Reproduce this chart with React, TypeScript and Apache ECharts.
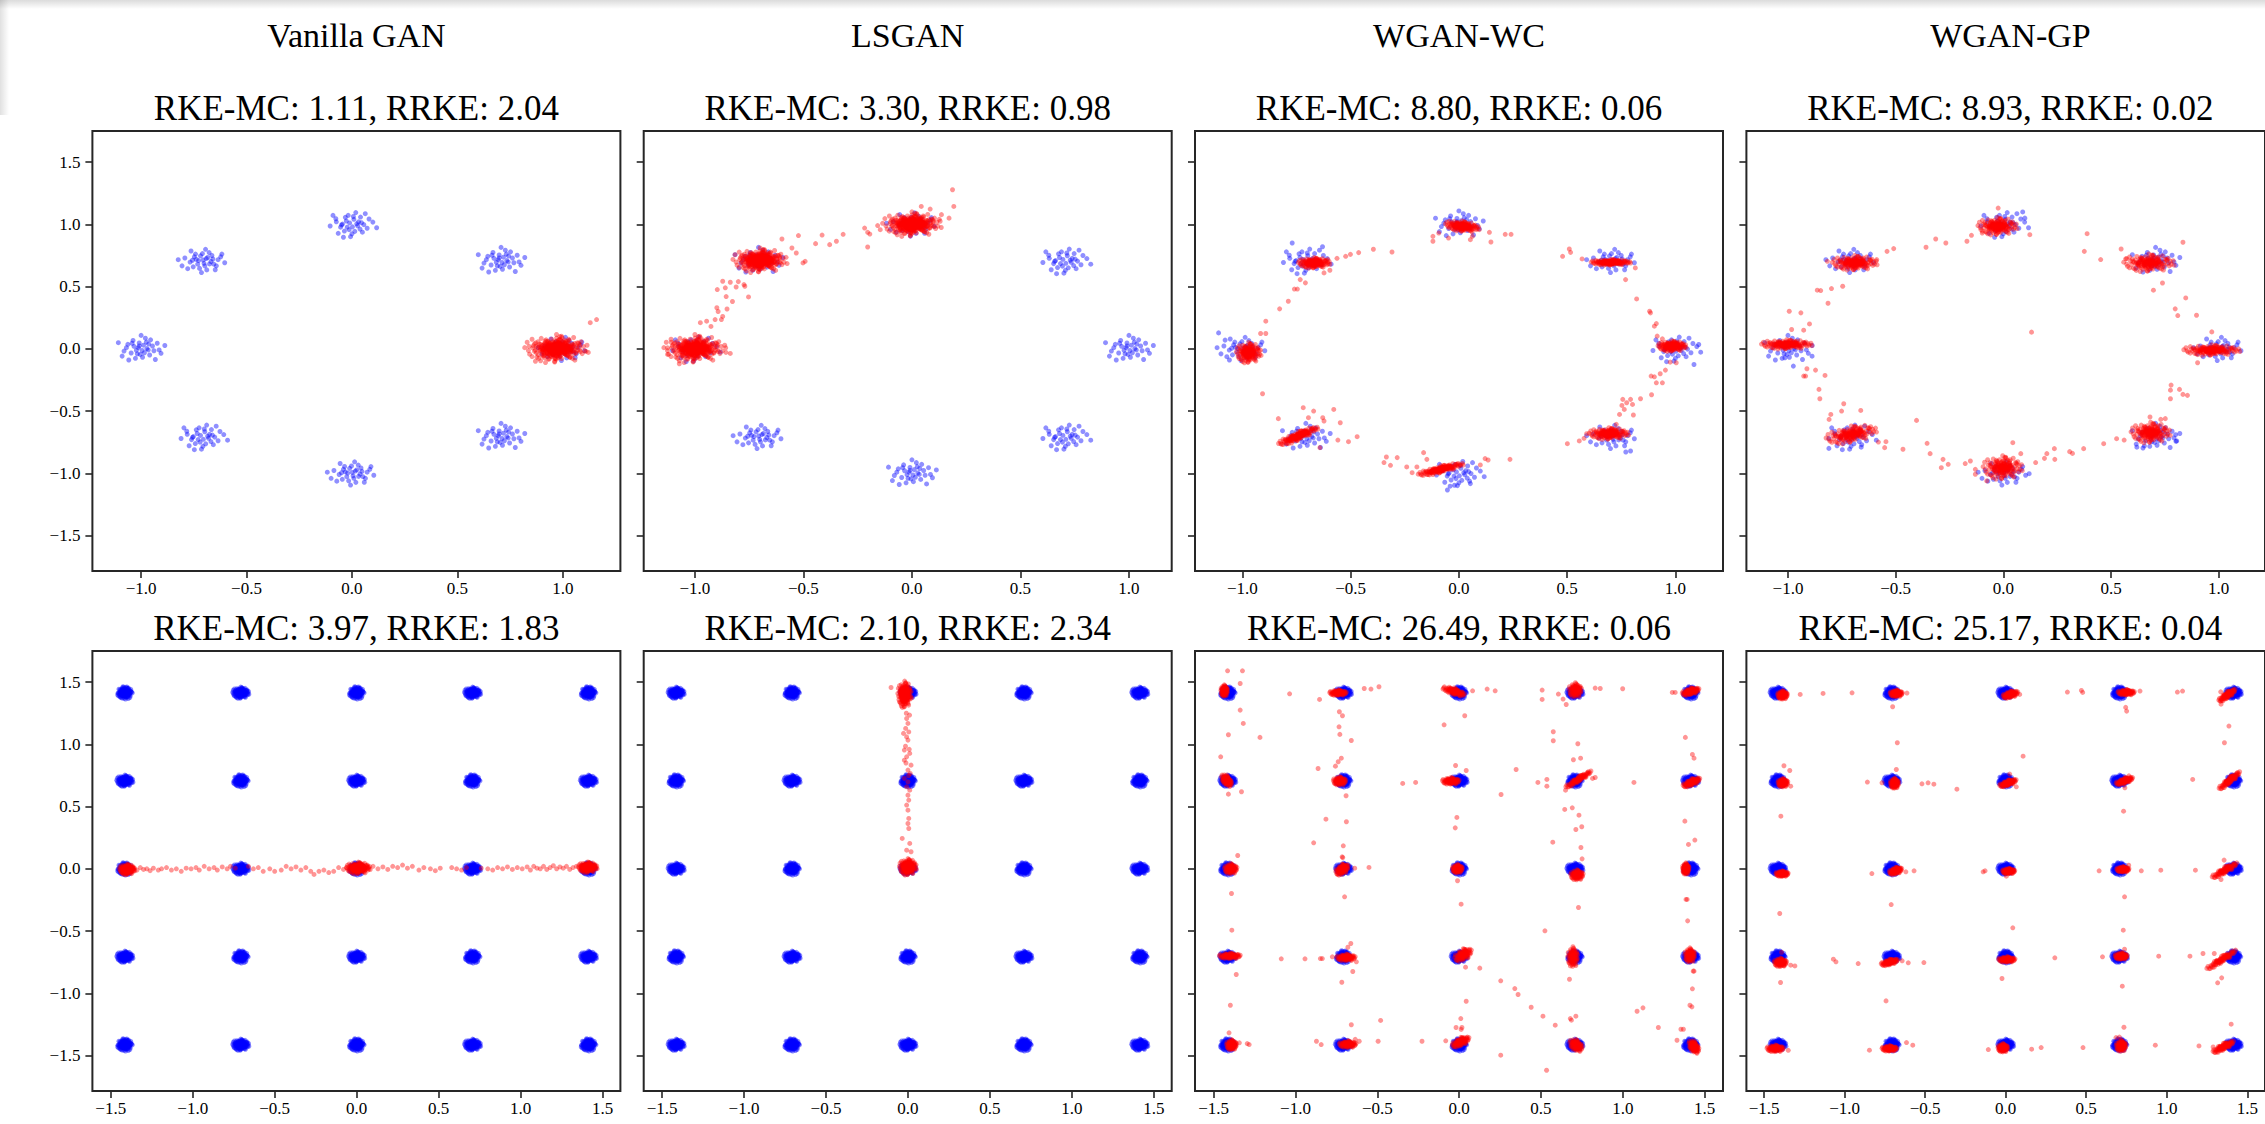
import React, { useEffect, useRef } from "react";
import * as echarts from "echarts";

// ---------- texts ----------
const COLUMN_TITLES = ["Vanilla GAN", "LSGAN", "WGAN-WC", "WGAN-GP"];
const ROW1_SCORES = [
  "RKE-MC: 1.11, RRKE: 2.04",
  "RKE-MC: 3.30, RRKE: 0.98",
  "RKE-MC: 8.80, RRKE: 0.06",
  "RKE-MC: 8.93, RRKE: 0.02",
];
const ROW2_SCORES = [
  "RKE-MC: 3.97, RRKE: 1.83",
  "RKE-MC: 2.10, RRKE: 2.34",
  "RKE-MC: 26.49, RRKE: 0.06",
  "RKE-MC: 25.17, RRKE: 0.04",
];

// ---------- axes ----------
const X_TICKS_RING = [-1, -0.5, 0, 0.5, 1];
const X_TICKS_GRID = [-1.5, -1, -0.5, 0, 0.5, 1, 1.5];
const Y_TICKS = [-1.5, -1, -0.5, 0, 0.5, 1, 1.5];
const X_RANGES = [
  [-1.231, 1.273],
  [-1.236, 1.197],
  [-1.219, 1.22],
  [-1.193, 1.215],
  [-1.612, 1.609],
  [-1.612, 1.609],
  [-1.614, 1.612],
  [-1.61, 1.61],
];
const Y_RANGE = [-1.785, 1.75];

// ---------- real data modes ----------
const RING_CENTERS = [
  [1, 0], [0.707, 0.707], [0, 1], [-0.707, 0.707],
  [-1, 0], [-0.707, -0.707], [0, -1], [0.707, -0.707],
];
const GRID_CENTERS = [-1.414, -0.707, 0, 0.707, 1.414];
const RING_STD = 0.045;
const GRID_STD = 0.019;

// hand-typed jitter offsets (in std units)
const JITTER_A = [
  [0.12, -0.45], [1.05, 0.33], [-0.78, 1.21], [0.41, -1.62], [-1.35, -0.22], [1.88, 0.71],
  [-0.25, 0.88], [0.66, 1.47], [-1.02, -1.08], [0.03, 0.15], [1.42, -0.9], [-1.9, 0.5],
  [0.85, -0.12], [-0.55, -0.6], [0.28, 2.05], [-0.15, -2.1], [2.3, -0.35], [-2.2, -0.9],
  [0.95, 0.95], [-0.7, 0.25], [0.5, 0.6], [-1.25, 1.75], [1.3, -1.6], [-0.35, -1.35],
  [0.2, -0.9], [-0.9, 0.7], [1.6, 0.2], [-1.6, -1.4], [0.7, -0.55], [-0.05, 1.3],
  [2.0, 1.2], [-0.45, 0.05], [1.15, -0.6], [-1.1, 0.1], [0.35, 0.4], [-2.6, 0.2],
];
const JITTER_B = [
  [-0.3, 0.2], [0.9, -1.1], [-1.4, 0.8], [1.7, 1.0], [0.1, -0.3], [-0.6, -1.7],
  [0.45, 1.9], [-1.8, -0.4], [1.2, 0.5], [-0.2, 1.05], [0.75, -0.2], [-1.05, -0.75],
  [2.1, -0.8], [0.25, 0.65], [-0.85, 1.5], [1.5, -1.9], [-0.1, -1.0], [-2.4, 1.1],
  [0.6, 0.05], [-0.5, -0.25], [1.0, 1.6], [-1.3, -2.0], [0.0, 2.4], [1.9, -0.2],
  [-0.75, 0.45], [0.35, -0.7], [-1.55, 0.2], [0.8, 0.85], [-0.4, -0.9], [2.5, 0.6],
  [-0.95, 1.0], [0.15, -1.5], [1.35, -0.35], [-2.0, -1.3], [0.55, 1.2], [-0.2, 0.5],
];
const JITTER_C = [
  [0.5, 0.1], [-1.2, -0.5], [0.3, -1.25], [-0.4, 1.6], [1.6, -0.7], [-0.8, -1.2],
  [2.2, 0.4], [-1.7, 1.0], [0.9, 1.3], [0.05, -0.45], [-0.6, 0.6], [1.1, -1.4],
  [-2.3, -0.3], [0.7, 0.45], [-0.15, -2.2], [1.4, 1.9], [-1.0, 0.05], [0.2, 0.9],
  [-0.5, -0.5], [1.8, 0.95], [-1.45, -1.6], [0.4, 2.1], [-0.25, 0.25], [1.25, -0.05],
  [-2.0, 1.6], [0.85, -0.85], [-0.7, 1.25], [0.0, -1.7], [2.6, -0.6], [-1.1, -0.1],
  [0.6, -0.25], [-0.3, -0.95], [1.0, 0.3], [-1.65, 0.45], [0.15, 1.4], [-0.9, -2.3],
];

// ---------- generated (red) clusters: [cx, cy, sx, sy, skew, density] ----------
const RED_CLUSTERS_P1 = [[0.97, 0.0, 0.058, 0.048, 0, 5]];
const RED_CLUSTERS_P2 = [
  [-1.0, 0.0, 0.055, 0.048, 0, 5],
  [-0.7, 0.71, 0.048, 0.042, 0, 5],
  [0.0, 1.0, 0.052, 0.042, 0, 5],
];
const RED_CLUSTERS_P3 = [
  [0.016, 0.984, 0.03, 0.018, -0.2, 3],
  [-0.669, 0.69, 0.028, 0.018, 0, 3],
  [-0.971, -0.032, 0.022, 0.035, 0, 3],
  [-0.742, -0.7, 0.035, 0.015, 0.7, 3],
  [-0.084, -0.968, 0.04, 0.012, 0.4, 3],
  [0.693, -0.682, 0.035, 0.02, 0, 3],
  [0.985, 0.021, 0.025, 0.018, 0, 3],
  [0.702, 0.695, 0.035, 0.01, 0, 3],
];
const RED_CLUSTERS_P4 = [
  [-0.027, 0.984, 0.035, 0.03, 0, 3],
  [-0.69, 0.69, 0.04, 0.025, 0, 3],
  [-1.006, 0.035, 0.045, 0.016, 0, 3],
  [-0.706, -0.687, 0.045, 0.028, 0.3, 3],
  [-0.003, -0.955, 0.035, 0.04, 0, 3],
  [0.684, -0.674, 0.035, 0.035, 0, 3],
  [0.968, -0.011, 0.05, 0.018, 0, 3],
  [0.676, 0.69, 0.045, 0.03, 0, 3],
];
const RED_CLUSTERS_P5 = [
  [-1.4, -0.005, 0.018, 0.018, 0, 3],
  [0.01, 0.006, 0.028, 0.02, 0, 4],
  [1.41, 0.012, 0.022, 0.018, 0, 3],
];
const RED_CLUSTERS_P6 = [
  [-0.02, 1.4, 0.016, 0.045, 0, 4],
  [0.0, 0.015, 0.02, 0.028, 0, 4],
];
const RED_CLUSTERS_P7 = [
  [-1.435, 1.43, 0.008, 0.02, 0, 2], [-0.739, 1.414, 0.02, 0.01, 0, 2],
  [-0.03, 1.425, 0.025, 0.012, -0.4, 2], [0.71, 1.435, 0.015, 0.025, 0, 2],
  [1.415, 1.425, 0.02, 0.012, 0.3, 2],
  [-1.42, 0.71, 0.012, 0.018, -0.8, 2], [-0.73, 0.705, 0.015, 0.015, 0, 2],
  [-0.05, 0.705, 0.02, 0.012, 0, 2], [0.73, 0.72, 0.03, 0.01, 0.8, 2],
  [1.42, 0.695, 0.02, 0.012, 0.5, 2],
  [-1.395, 0.0, 0.015, 0.018, 0, 2], [-0.715, -0.005, 0.015, 0.018, 0.5, 2],
  [-0.01, 0.0, 0.012, 0.015, 0, 2], [0.72, -0.05, 0.015, 0.018, 0, 2],
  [1.385, 0.0, 0.008, 0.02, 0, 2],
  [-1.4, -0.7, 0.025, 0.01, 0, 2], [-0.69, -0.713, 0.022, 0.012, 0, 2],
  [0.025, -0.69, 0.02, 0.02, 0.5, 2], [0.695, -0.71, 0.012, 0.035, 0, 2],
  [1.41, -0.695, 0.012, 0.025, 0, 2],
  [-1.39, -1.415, 0.012, 0.018, 0, 2], [-0.68, -1.41, 0.02, 0.012, 0, 2],
  [0.01, -1.39, 0.02, 0.015, 0.5, 2], [0.715, -1.418, 0.015, 0.02, -0.5, 2],
  [1.435, -1.43, 0.012, 0.02, -0.8, 2],
];
const RED_CLUSTERS_P8 = [
  [-1.385, 1.396, 0.012, 0.015, 0, 2], [-0.679, 1.409, 0.015, 0.012, 0, 2],
  [0.03, 1.401, 0.018, 0.012, 0.3, 2], [0.749, 1.417, 0.02, 0.01, 0, 2],
  [1.375, 1.395, 0.02, 0.012, 0.8, 2],
  [-1.383, 0.691, 0.012, 0.015, 0, 2], [-0.69, 0.686, 0.01, 0.018, 0, 2],
  [0.015, 0.69, 0.02, 0.01, 0.4, 2], [0.738, 0.707, 0.02, 0.01, 0.4, 2],
  [1.39, 0.71, 0.025, 0.012, 1.0, 2],
  [-1.388, -0.04, 0.015, 0.01, 0, 2], [-0.683, -0.016, 0.015, 0.012, 0.3, 2],
  [0.019, -0.019, 0.015, 0.01, 0, 2], [0.728, -0.005, 0.015, 0.01, 0, 2],
  [1.36, -0.012, 0.03, 0.012, 0.7, 2],
  [-1.398, -0.753, 0.015, 0.015, 0, 2], [-0.721, -0.75, 0.02, 0.01, 0.3, 2],
  [0.008, -0.729, 0.02, 0.01, 0, 2], [0.717, -0.702, 0.015, 0.012, 0, 2],
  [1.34, -0.73, 0.035, 0.012, 0.8, 2],
  [-1.43, -1.444, 0.02, 0.012, 0, 2], [-0.721, -1.444, 0.018, 0.01, 0, 2],
  [-0.017, -1.439, 0.012, 0.015, 0, 2], [0.717, -1.423, 0.012, 0.02, 0, 2],
  [1.352, -1.43, 0.025, 0.012, 0.6, 2],
];

// ---------- individually read points ----------
const RED_POINTS_P1 = [[1.13, 0.21], [1.16, 0.235], [0.84, 0.02], [1.11, -0.02], [0.87, -0.1]];
const RED_POINTS_P2 = [
  [-0.975, 0.21], [-0.946, 0.222], [-0.926, 0.18], [-0.907, 0.235], [-0.878, 0.235], [-0.872, 0.26],
  [-0.899, 0.33], [-0.893, 0.3], [-0.852, 0.32], [-0.827, 0.38], [-0.856, 0.42], [-0.897, 0.476],
  [-0.86, 0.49], [-0.837, 0.535], [-0.81, 0.497], [-0.774, 0.516], [-0.77, 0.503], [-0.753, 0.417],
  [-0.8, 0.54], [-0.872, 0.543],
  [-0.599, 0.882], [-0.553, 0.81], [-0.533, 0.77], [-0.523, 0.91], [-0.492, 0.703], [-0.502, 0.69],
  [-0.444, 0.845], [-0.414, 0.914], [-0.379, 0.837], [-0.348, 0.864], [-0.317, 0.92], [-0.218, 0.97],
  [-0.204, 0.936], [-0.194, 0.922], [-0.204, 0.818], [-0.158, 0.99], [-0.146, 0.957],
  [0.187, 1.278], [0.193, 1.144], [0.171, 1.05], [0.136, 1.078], [0.126, 1.04], [0.084, 1.123], [0.043, 1.144],
  [-1.126, 0.008], [-1.126, -0.045], [-1.109, 0.053], [-0.837, -0.037], [-0.858, 0.008], [-1.072, -0.12],
];
const RED_POINTS_P3 = [
  [-0.12, 0.904], [-0.12, 0.864], [-0.093, 0.93], [-0.048, 0.89], [0.053, 0.877], [0.062, 0.904],
  [0.141, 0.936], [0.148, 0.858], [0.214, 0.92], [0.241, 0.92],
  [-0.605, 0.717], [-0.563, 0.727], [-0.523, 0.743], [-0.501, 0.759], [-0.463, 0.773], [-0.395, 0.8],
  [-0.309, 0.778], [-0.623, 0.61], [-0.596, 0.631], [-0.733, 0.556], [-0.709, 0.53], [-0.76, 0.48],
  [-0.746, 0.48], [-0.788, 0.382], [-0.828, 0.321], [-0.892, 0.222], [-0.916, 0.123], [-0.892, 0.123],
  [-0.907, -0.361],
  [-0.834, -0.561], [-0.719, -0.473], [-0.695, -0.553], [-0.671, -0.5], [-0.629, -0.553], [-0.623, -0.58],
  [-0.578, -0.487], [-0.548, -0.594], [-0.559, -0.733], [-0.51, -0.746], [-0.47, -0.706], [-0.642, -0.794],
  [-0.335, -0.869], [-0.346, -0.914], [-0.316, -0.936], [-0.285, -0.874], [-0.241, -0.949], [-0.216, -0.995],
  [-0.163, -0.834], [-0.148, -0.888], [-0.194, -0.949], [0.099, -0.933], [0.121, -0.882], [0.135, -0.893],
  [0.236, -0.888],
  [0.757, -0.406], [0.793, -0.406], [0.753, -0.455], [0.775, -0.433], [0.764, -0.487], [0.742, -0.527],
  [0.802, -0.447], [0.806, -0.532], [0.839, -0.401], [0.89, -0.369], [0.727, -0.607], [0.72, -0.647],
  [0.501, -0.762], [0.556, -0.74], [0.578, -0.719], [0.59, -0.682],
  [0.885, 0.289], [0.881, 0.302], [0.903, 0.182], [0.912, 0.203], [0.916, 0.102], [0.94, 0.08],
  [0.821, 0.401], [0.888, -0.219], [0.903, -0.225], [0.954, -0.171], [0.93, -0.2], [0.912, -0.273],
  [0.94, -0.273], [0.976, -0.107], [1.004, -0.112],
  [0.479, 0.743], [0.51, 0.802], [0.516, 0.775], [0.569, 0.722], [0.77, 0.556], [0.815, 0.65],
];
const BLUE_POINTS_P3 = [
  [-1.11, 0.128], [-1.08, 0.07], [-1.06, -0.09], [0.771, -0.829], [0.793, -0.821], [1.108, 0.035],
  [1.086, -0.126], [-0.053, -1.134], [-0.02, -1.096], [0.053, -1.083], [-0.77, 0.85], [-0.63, 0.82],
];
const RED_POINTS_P4 = [
  [0.123, 0.917], [-0.098, 0.93], [-0.148, 0.912], [-0.169, 0.864], [-0.024, 1.131],
  [-0.588, 0.717], [-0.54, 0.783], [-0.509, 0.805], [-0.359, 0.816], [-0.314, 0.882], [-0.267, 0.85],
  [-0.817, 0.703],
  [-0.864, 0.471], [-0.848, 0.468], [-0.798, 0.484], [-0.746, 0.503], [-0.814, 0.366], [-0.9, 0.2],
  [-0.94, 0.289], [-0.994, 0.302], [-0.983, 0.155], [-0.927, 0.15],
  [-0.912, -0.16], [-0.872, -0.171], [-0.927, -0.219], [-0.918, -0.219], [-0.828, -0.214],
  [-0.856, -0.326], [-0.852, -0.401],
  [-0.741, -0.441], [-0.751, -0.5], [-0.801, -0.527], [-0.809, -0.567], [-0.662, -0.495], [-0.58, -0.749],
  [-0.545, -0.746], [-0.551, -0.794], [-0.466, -0.807],
  [-0.403, -0.575], [-0.354, -0.759], [-0.34, -0.842], [-0.28, -0.888], [-0.288, -0.955], [-0.256, -0.928],
  [-0.177, -0.922], [-0.153, -0.901], [-0.13, -0.968], [-0.13, -1.008],
  [0.044, -0.754], [0.081, -0.842], [-0.077, -1.061],
  [0.15, -0.914], [0.191, -0.88], [0.202, -0.842], [0.237, -0.802], [0.239, -0.888], [0.308, -0.826],
  [0.321, -0.84], [0.373, -0.802], [0.466, -0.762], [0.526, -0.722], [0.561, -0.733],
  [0.731, -0.567], [0.752, -0.561], [0.681, -0.548],
  [0.779, -0.291], [0.776, -0.332], [0.776, -0.401], [0.818, -0.326], [0.834, -0.366], [0.855, -0.374],
  [0.847, 0.409], [0.798, 0.321], [0.81, 0.267], [0.897, 0.27],
  [0.968, 0.136], [0.902, -0.112], [0.131, 0.134],
  [0.547, 0.802], [0.573, 0.725], [0.697, 0.471], [0.739, 0.529], [0.834, 0.856], [0.452, 0.717],
  [0.389, 0.925], [0.376, 0.783],
];
const BLUE_POINTS_P4 = [
  [-1.014, -0.072], [-0.975, -0.139], [-0.888, -0.059], [0.12, -1.003], [0.8, -0.69], [0.805, -0.74],
  [0.62, -0.79], [0.655, -0.78], [-0.81, -0.8], [-0.66, -0.79], [0.09, 1.1], [0.1, 1.05],
];
const RED_POINTS_P5 = [
  [-1.36, 0.0], [-1.34, -0.01], [-1.32, 0.01], [-1.3, -0.005], [-1.28, 0.0], [-1.26, -0.015],
  [-1.24, 0.005], [-1.21, -0.01], [-1.19, 0.0], [-1.16, 0.01], [-1.13, -0.01], [-1.1, 0.0],
  [-1.07, -0.02], [-1.04, 0.005], [-1.01, 0.0], [-0.98, 0.01], [-0.96, -0.01], [-0.93, 0.02],
  [-0.9, 0.0], [-0.87, 0.01], [-0.85, -0.01], [-0.82, 0.015], [-0.79, 0.0], [-0.77, 0.02],
  [-0.74, 0.005], [-0.66, 0.02], [-0.63, 0.0], [-0.6, 0.01], [-0.57, -0.02], [-0.53, 0.0],
  [-0.5, -0.02], [-0.46, -0.01], [-0.43, 0.02], [-0.4, 0.0], [-0.37, 0.015], [-0.34, -0.01],
  [-0.31, 0.01], [-0.28, -0.02], [-0.26, -0.045], [-0.23, -0.02], [-0.2, -0.01], [-0.17, -0.03],
  [-0.14, -0.02], [-0.11, 0.01], [-0.08, -0.005], [-0.06, 0.01], [0.07, 0.01], [0.1, 0.02],
  [0.13, 0.0], [0.16, 0.015], [0.19, -0.005], [0.22, 0.02], [0.25, 0.01], [0.28, 0.03],
  [0.31, 0.005], [0.34, 0.02], [0.38, -0.01], [0.41, 0.01], [0.45, 0.0], [0.48, -0.015],
  [0.51, 0.005], [0.58, 0.01], [0.61, 0.0], [0.64, -0.01], [0.67, 0.01], [0.76, 0.005],
  [0.8, 0.0], [0.83, -0.01], [0.86, 0.01], [0.89, 0.0], [0.92, 0.015], [0.95, -0.005],
  [0.98, 0.01], [1.01, 0.0], [1.04, 0.015], [1.06, -0.01], [1.08, 0.02], [1.1, 0.005],
  [1.12, 0.0], [1.14, 0.02], [1.16, -0.005], [1.18, 0.01], [1.2, 0.025], [1.22, 0.0],
  [1.24, 0.015], [1.26, 0.005], [1.28, 0.02], [1.3, -0.005], [1.32, 0.01], [1.34, 0.02],
];
const RED_POINTS_P6 = [
  [-0.103, 1.457], [-0.008, 1.208], [0.0, 1.168], [-0.014, 1.128], [0.005, 1.1], [-0.027, 1.088],
  [-0.008, 1.06], [0.0, 1.034], [-0.022, 0.954], [0.011, 0.927], [-0.008, 0.9], [-0.022, 0.873],
  [0.019, 0.833], [0.0, 0.793], [0.014, 0.766], [-0.022, 0.726], [0.0, 0.699], [-0.008, 0.659],
  [0.011, 0.632], [0.0, 0.592], [0.005, 0.552], [-0.008, 0.512], [0.0, 0.471], [0.005, 0.405],
  [0.0, 0.364], [0.005, 0.324], [-0.035, 0.244], [0.011, 0.204], [-0.008, 0.15], [0.019, 0.137],
  [-0.01, 1.25], [0.01, 1.235], [-0.015, 0.985], [0.008, 0.96], [-0.012, 0.85], [0.004, 0.75],
];
const RED_POINTS_P7 = [
  [-1.415, 1.591], [-1.324, 1.591], [-1.338, 1.489], [-1.338, 1.275], [-1.319, 1.168], [-1.41, 1.077],
  [-1.217, 1.056], [-1.457, 0.9], [-1.33, 0.619], [-1.41, 0.6], [-1.353, 0.107], [-1.391, -0.198],
  [-1.389, -0.493], [-1.362, -0.849], [-1.398, -1.096], [-1.406, -1.318], [-1.343, -1.398],
  [-1.295, -1.404], [-1.283, -1.412],
  [-1.036, 1.406], [-0.853, 1.361], [-0.732, 1.262], [-0.713, 1.23], [-0.734, 1.141], [-0.729, 1.08],
  [-0.659, 1.031], [-0.862, 0.806], [-0.72, 0.889], [-0.739, 0.86], [-0.756, 0.825], [-0.691, 0.587],
  [-0.814, 0.399], [-0.689, 0.378], [-0.889, 0.209], [-0.708, 0.185], [-0.715, 0.096], [-0.711, 0.09],
  [-0.551, 0.011], [-0.638, 0.005], [-0.7, -0.225], [-1.087, -0.723], [-0.942, -0.723],
  [-0.848, -0.721], [-0.836, -0.721], [-0.775, -0.707], [-0.628, -0.747], [-0.65, -0.825],
  [-0.662, -0.6], [-0.68, -0.63], [-0.717, -0.911], [-0.659, -1.253], [-0.48, -1.218],
  [-0.872, -1.385], [-0.843, -1.412], [-0.611, -1.385], [-0.635, -1.37], [-0.495, -1.385],
  [-0.58, 1.449], [-0.539, 1.444], [-0.49, 1.463], [-0.099, 1.444], [0.082, 1.43], [0.171, 1.444],
  [0.22, 1.43], [0.507, 1.436], [0.507, 1.361], [0.606, 1.404], [0.635, 1.364], [0.654, 1.32],
  [0.831, 1.452], [0.862, 1.449], [0.999, 1.447], [1.302, 1.417], [1.32, 1.417],
  [0.034, 1.23], [-0.092, 1.157], [-0.022, 0.83], [0.043, 0.79], [-0.048, 0.691], [-0.014, 0.413],
  [-0.024, 0.329], [-0.01, -0.096], [0.012, -0.284], [0.039, -0.79], [0.043, -1.064], [0.01, -1.203],
  [-0.019, -1.275], [0.017, -1.275], [0.012, -1.29], [-0.082, -1.382], [-0.227, -1.385],
  [-0.345, 0.686], [-0.266, 0.694], [0.348, 0.798], [0.481, 0.694], [0.536, 0.718], [0.536, 0.664],
  [0.256, 0.597], [1.068, 0.694], [0.831, 0.734], [0.815, 0.726],
  [0.126, -0.798], [0.254, -0.9], [0.34, -0.962], [0.36, -1.01], [0.44, -1.112], [0.512, -1.184],
  [0.587, -1.256], [0.254, -1.497], [0.534, -1.618],
  [0.575, 1.101], [0.575, 1.029], [0.725, 1.005], [0.698, 0.876], [0.742, 0.889], [0.65, 0.632],
  [0.645, 0.477], [0.691, 0.49], [0.732, 0.431], [0.713, 0.316], [0.749, 0.338], [0.572, 0.214],
  [0.744, 0.171], [0.751, 0.08], [0.729, -0.311], [0.524, -0.498], [0.674, -0.887], [0.686, -1.216],
  [0.713, -1.184], [0.679, -1.203],
  [1.382, 1.056], [1.425, 0.919], [1.435, 0.889], [1.379, 0.383], [1.401, 0.196], [1.44, 0.231],
  [1.386, -0.246], [1.393, -0.246], [1.396, -0.418], [1.43, -0.822], [1.435, -0.822], [1.425, -0.964],
  [1.41, -1.096], [1.422, -1.109], [1.355, -1.289], [1.37, -1.289], [1.331, -1.377], [1.087, -1.144],
  [1.123, -1.117], [1.217, -1.275],
];
const RED_POINTS_P8 = [
  [-1.276, 1.401], [-1.134, 1.409], [-0.954, 1.414], [-0.613, 1.412], [-0.702, 1.302], [-0.673, 1.013],
  [0.087, 1.401], [0.383, 1.42], [0.47, 1.433], [0.478, 1.417], [0.834, 1.428], [0.745, 1.297],
  [0.751, 1.267], [1.066, 1.42], [1.098, 1.428], [1.335, 1.422], [1.337, 1.323], [1.386, 1.147],
  [1.358, 1.013], [0.108, 0.905], [-1.377, 0.828], [-1.341, 0.79], [-1.335, 0.664], [-0.859, 0.697],
  [-0.768, 0.691], [-0.679, 0.798], [-0.52, 0.683], [-0.482, 0.691], [-0.446, 0.68], [-0.303, 0.64],
  [0.025, 0.761], [0.066, 0.659], [0.765, 0.747], [0.74, 0.651], [0.732, 0.463], [1.161, 0.718],
  [-1.396, 0.423], [-0.831, -0.038], [-0.62, -0.024], [-0.569, -0.016], [-0.14, -0.024],
  [-0.128, -0.016], [0.004, -0.059], [0.58, -0.016], [0.764, 0.029], [0.842, -0.016], [0.963, -0.011],
  [1.178, -0.011], [1.356, 0.07], [1.337, -0.086], [-0.711, -0.287], [0.738, -0.225], [-1.403, -0.359],
  [0.044, -0.474], [0.73, -0.493], [-1.392, -0.67], [-1.377, -0.774], [-1.335, -0.774], [-1.309, -0.78],
  [-1.07, -0.726], [-1.054, -0.747], [-0.916, -0.761], [-0.643, -0.739], [-0.605, -0.755],
  [-0.508, -0.753], [-0.023, -0.881], [0.305, -0.715], [0.601, -0.707], [0.738, -0.646],
  [0.724, -0.943], [0.95, -0.702], [1.144, -0.702], [1.225, -0.68], [1.295, -0.68], [1.341, -0.876],
  [1.316, -0.916], [-1.398, -0.913], [-0.743, -1.061], [0.734, -1.273], [1.4, -1.248], [-1.35, -1.458],
  [-0.846, -1.457], [-0.616, -1.396], [-0.577, -1.417], [-0.108, -1.452], [0.161, -1.449],
  [0.22, -1.436], [0.48, -1.436], [0.929, -1.417], [1.2, -1.423], [1.288, -1.431], [0.685, -1.356],
  [0.706, -1.352],
];

const RED_CLUSTERS = [
  RED_CLUSTERS_P1, RED_CLUSTERS_P2, RED_CLUSTERS_P3, RED_CLUSTERS_P4,
  RED_CLUSTERS_P5, RED_CLUSTERS_P6, RED_CLUSTERS_P7, RED_CLUSTERS_P8,
];
const RED_POINTS = [
  RED_POINTS_P1, RED_POINTS_P2, RED_POINTS_P3, RED_POINTS_P4,
  RED_POINTS_P5, RED_POINTS_P6, RED_POINTS_P7, RED_POINTS_P8,
];
const BLUE_POINTS = [[], [], BLUE_POINTS_P3, BLUE_POINTS_P4, [], [], [], []];

// ---------- layout ----------
const GRID_LEFTS = [92.4, 643.7, 1195, 1746.4];
const GRID_WIDTH = 528;
const ROW_TOPS = [131, 651];
const ROW_HEIGHT = 440;
const FONT = "Liberation Serif";

const PATTERNS = [JITTER_A, JITTER_B, JITTER_C];
const DENSITY_LAYERS: Record<number, [number[][], number][]> = {
  2: [[JITTER_A, 1], [JITTER_B, 1]],
  3: [[JITTER_A, 1], [JITTER_B, 1], [JITTER_C, 1], [JITTER_A, 0.5]],
  4: [[JITTER_A, 1], [JITTER_B, 1], [JITTER_C, 1], [JITTER_A, 0.55], [JITTER_B, 0.55], [JITTER_C, 0.55], [JITTER_A, 0.3]],
  5: [
    [JITTER_A, 1], [JITTER_B, 1], [JITTER_C, 1], [JITTER_A, 0.75], [JITTER_B, 0.75], [JITTER_C, 0.75],
    [JITTER_A, 0.5], [JITTER_B, 0.5], [JITTER_C, 0.5], [JITTER_A, 0.28], [JITTER_B, 0.28],
  ],
};

function clusterPoints(spec: number[]) {
  const [cx, cy, sx, sy, skew, d] = spec;
  const out: number[][] = [];
  for (const [pat, s] of DENSITY_LAYERS[d]) {
    for (const [ox, oy] of pat) {
      out.push([cx + sx * s * ox, cy + sy * s * oy + skew * sx * s * ox]);
    }
  }
  return out;
}

function bluePoints(p: number) {
  const out: number[][] = [];
  if (p < 4) {
    RING_CENTERS.forEach(([cx, cy], i) => {
      for (const [ox, oy] of PATTERNS[(i + p) % 3]) out.push([cx + RING_STD * ox, cy + RING_STD * oy]);
    });
  } else {
    let k = 0;
    for (const cx of GRID_CENTERS) {
      for (const cy of GRID_CENTERS) {
        for (const pat of PATTERNS) {
          for (const [ox, oy] of pat) {
            out.push((k + p) % 2 ? [cx + GRID_STD * ox, cy + GRID_STD * oy] : [cx + GRID_STD * oy, cy + GRID_STD * ox]);
          }
        }
        k++;
      }
    }
  }
  return out.concat(BLUE_POINTS[p]);
}

function redPoints(p: number) {
  const out: number[][] = [];
  for (const spec of RED_CLUSTERS[p]) out.push(...clusterPoints(spec));
  return out.concat(RED_POINTS[p]);
}

const fmt = (v: number) => (v < 0 ? "\u2212" : "") + Math.abs(v).toFixed(1);

function buildOption() {
  const grid: any[] = [];
  const xAxis: any[] = [];
  const yAxis: any[] = [];
  const series: any[] = [];
  for (let p = 0; p < 8; p++) {
    const row = Math.floor(p / 4);
    const col = p % 4;
    grid.push({
      left: GRID_LEFTS[col],
      top: ROW_TOPS[row],
      width: GRID_WIDTH,
      height: ROW_HEIGHT,
      show: true,
      borderColor: "#262626",
      borderWidth: 2,
      backgroundColor: "transparent",
    });
    const xt = row === 0 ? X_TICKS_RING : X_TICKS_GRID;
    xAxis.push({
      gridIndex: p,
      type: "value",
      position: "bottom",
      min: X_RANGES[p][0],
      max: X_RANGES[p][1],
      axisLine: { show: false, onZero: false },
      splitLine: { show: false },
      axisTick: { show: true, customValues: xt, length: 7, lineStyle: { color: "#262626", width: 1.6 } },
      axisLabel: { customValues: xt, formatter: fmt, fontFamily: FONT, fontSize: 17, color: "#000", margin: 9 },
    });
    yAxis.push({
      gridIndex: p,
      type: "value",
      position: "left",
      min: Y_RANGE[0],
      max: Y_RANGE[1],
      axisLine: { show: false, onZero: false },
      splitLine: { show: false },
      axisTick: { show: true, customValues: Y_TICKS, length: 7, lineStyle: { color: "#262626", width: 1.6 } },
      axisLabel: {
        show: col === 0,
        customValues: Y_TICKS,
        formatter: fmt,
        fontFamily: FONT,
        fontSize: 17,
        color: "#000",
        margin: 12,
      },
    });
    const common = {
      type: "scatter",
      xAxisIndex: p,
      yAxisIndex: p,
      symbol: "circle",
      symbolSize: 5,
      silent: true,
      progressive: 0,
      large: false,
      clip: true,
    };
    series.push({ ...common, data: bluePoints(p), itemStyle: { color: "rgba(0,0,255,0.55)" } });
    series.push({ ...common, data: redPoints(p), itemStyle: { color: "rgba(255,0,0,0.52)" } });
  }

  const graphic: any[] = [
    {
      type: "rect",
      shape: { x: 0, y: 0, width: 2265, height: 9 },
      style: {
        fill: new echarts.graphic.LinearGradient(0, 0, 0, 1, [
          { offset: 0, color: "rgba(0,0,0,0.14)" },
          { offset: 1, color: "rgba(0,0,0,0)" },
        ]),
      },
      silent: true,
    },
    {
      type: "rect",
      shape: { x: 0, y: 0, width: 9, height: 115 },
      style: {
        fill: new echarts.graphic.LinearGradient(0, 0, 1, 0, [
          { offset: 0, color: "rgba(0,0,0,0.12)" },
          { offset: 1, color: "rgba(0,0,0,0)" },
        ]),
      },
      silent: true,
    },
  ];
  for (let c = 0; c < 4; c++) {
    const cx = GRID_LEFTS[c] + GRID_WIDTH / 2;
    graphic.push({
      type: "text",
      x: cx,
      y: 35,
      style: { text: COLUMN_TITLES[c], fontFamily: FONT, fontSize: 34, fill: "#000", align: "center", verticalAlign: "middle" },
    });
    graphic.push({
      type: "text",
      x: cx,
      y: 108,
      style: { text: ROW1_SCORES[c], fontFamily: FONT, fontSize: 35, fill: "#000", align: "center", verticalAlign: "middle" },
    });
    graphic.push({
      type: "text",
      x: cx,
      y: 628,
      style: { text: ROW2_SCORES[c], fontFamily: FONT, fontSize: 35, fill: "#000", align: "center", verticalAlign: "middle" },
    });
  }

  return {
    animation: false,
    backgroundColor: "#ffffff",
    textStyle: { fontFamily: FONT },
    grid,
    xAxis,
    yAxis,
    series,
    graphic,
  };
}

export default function App() {
  const ref = useRef<HTMLDivElement>(null);
  useEffect(() => {
    if (!ref.current) return;
    const chart = echarts.init(ref.current, undefined, { renderer: "svg" });
    chart.setOption(buildOption() as any);
    return () => chart.dispose();
  }, []);
  return (
    <div
      ref={ref}
      style={{ position: "fixed", left: 0, top: 0, width: 2265, height: 1124, background: "#fff", overflow: "hidden" }}
    />
  );
}
